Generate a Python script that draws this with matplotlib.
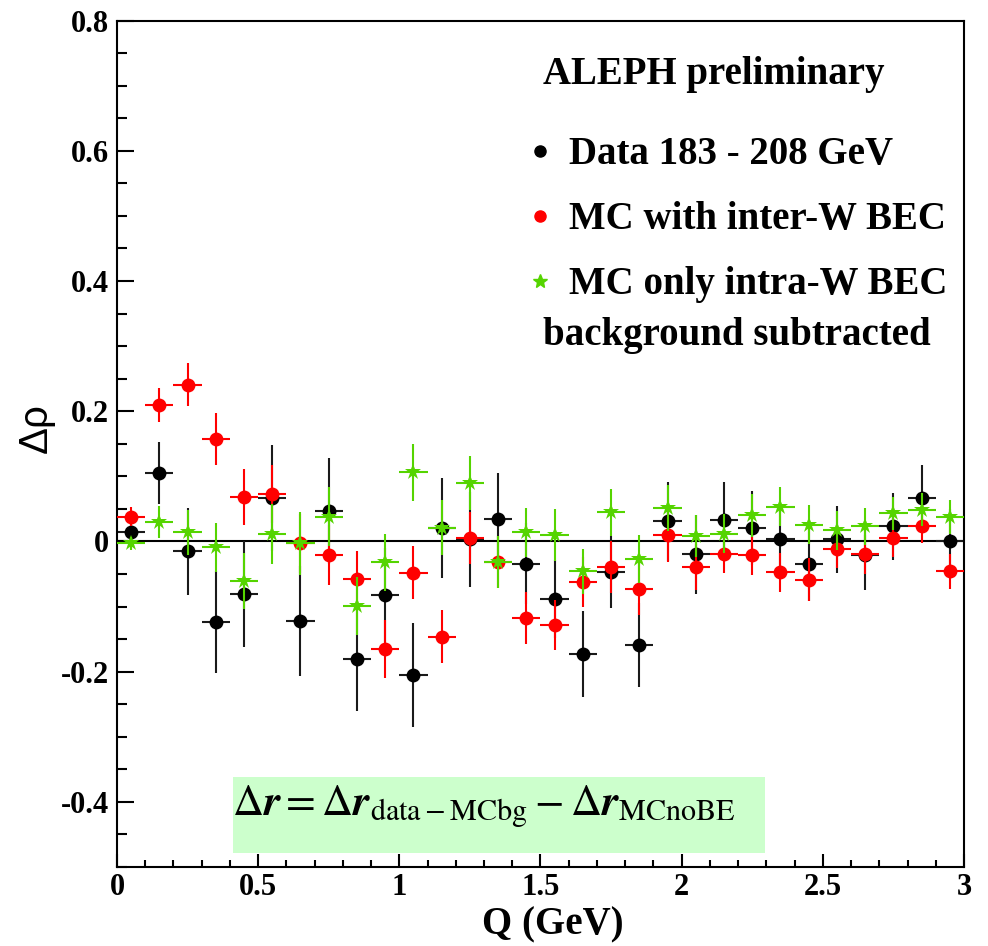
import numpy as np
import matplotlib
matplotlib.use("Agg")
import matplotlib.pyplot as plt
from matplotlib.lines import Line2D
from matplotlib.patches import Rectangle
from matplotlib.ticker import MultipleLocator

# Q bins (GeV), 0.1 wide
q = np.arange(30) * 0.1 + 0.05
q_half = 0.05

# Data 183 - 208 GeV
data_y = [0.014, 0.105, -0.015, -0.124, -0.081, 0.067, -0.122, 0.047, -0.180, -0.082,
          -0.205, 0.021, 0.003, 0.035, -0.034, -0.089, -0.173, -0.047, -0.159, 0.031,
          -0.020, 0.033, 0.021, 0.003, -0.035, 0.003, -0.021, 0.023, 0.067, 0.000]
data_err = [0.020, 0.047, 0.067, 0.078, 0.081, 0.081, 0.084, 0.081, 0.080, 0.072,
            0.080, 0.077, 0.073, 0.070, 0.062, 0.060, 0.066, 0.055, 0.065, 0.061,
            0.061, 0.058, 0.057, 0.052, 0.057, 0.052, 0.053, 0.052, 0.050, 0.050]

# MC with inter-W BEC
mc_inter_y = [0.038, 0.209, 0.241, 0.157, 0.069, 0.073, -0.003, -0.021, -0.058, -0.165,
              -0.048, -0.146, 0.005, -0.031, -0.118, -0.128, -0.062, -0.039, -0.073, 0.010,
              -0.039, -0.019, -0.021, -0.047, -0.059, -0.011, -0.020, 0.006, 0.023, -0.046]
mc_inter_err = [0.015, 0.026, 0.033, 0.040, 0.043, 0.044, 0.045, 0.046, 0.044, 0.045,
                0.041, 0.041, 0.040, 0.040, 0.040, 0.038, 0.038, 0.040, 0.040, 0.042,
                0.035, 0.030, 0.030, 0.030, 0.033, 0.030, 0.030, 0.030, 0.026, 0.027]

# MC only intra-W BEC
mc_intra_y = [-0.003, 0.030, 0.014, -0.009, -0.060, 0.012, -0.003, 0.038, -0.099, -0.032,
              0.106, 0.021, 0.090, -0.032, 0.014, 0.010, -0.046, 0.045, -0.027, 0.051,
              0.008, 0.012, 0.040, 0.053, 0.026, 0.017, 0.023, 0.043, 0.049, 0.037]
mc_intra_err = [0.010, 0.025, 0.035, 0.038, 0.043, 0.046, 0.048, 0.045, 0.044, 0.044,
                0.044, 0.042, 0.041, 0.040, 0.038, 0.040, 0.035, 0.036, 0.037, 0.035,
                0.032, 0.030, 0.033, 0.030, 0.030, 0.030, 0.028, 0.025, 0.025, 0.026]

x_ticks = [0, 0.5, 1, 1.5, 2, 2.5, 3]
x_ticklabels = ["0", "0.5", "1", "1.5", "2", "2.5", "3"]
y_ticks = [-0.4, -0.2, 0, 0.2, 0.4, 0.6, 0.8]
y_ticklabels = ["-0.4", "-0.2", "0", "0.2", "0.4", "0.6", "0.8"]

green = "#55d400"
serif = "Liberation Serif"
plt.rcParams["mathtext.fontset"] = "stix"

fig = plt.figure(figsize=(9.88, 9.46), dpi=100)
ax = fig.add_axes([0.1184, 0.0835, 0.8573, 0.8948])

ax.axhline(0, color="black", lw=1.5, zorder=1)

common = dict(xerr=q_half, fmt="o", lw=1.5, capsize=0, markeredgewidth=0)
ax.errorbar(q, data_y, yerr=data_err, color="black", ecolor="#1a1a1a", ms=10, zorder=2, **common)
ax.errorbar(q, mc_inter_y, yerr=mc_inter_err, color="red", ms=10, zorder=3, **common)
common["fmt"] = "*"
ax.errorbar(q, mc_intra_y, yerr=mc_intra_err, color=green, ms=12, zorder=4, **common)

ax.set_xlim(0, 3)
ax.set_ylim(-0.5, 0.8)
ax.set_xticks(x_ticks)
ax.set_xticklabels(x_ticklabels)
ax.set_yticks(y_ticks)
ax.set_yticklabels(y_ticklabels)
ax.xaxis.set_minor_locator(MultipleLocator(0.1))
ax.yaxis.set_minor_locator(MultipleLocator(0.05))
ax.tick_params(which="both", direction="in", top=False, right=False, width=1.5)
ax.tick_params(axis="x", which="major", length=9.5, pad=4)
ax.tick_params(axis="x", which="minor", length=5)
ax.tick_params(axis="y", which="major", length=12, pad=6)
ax.tick_params(axis="y", which="minor", length=7)
for lab in ax.get_xticklabels() + ax.get_yticklabels():
    lab.set_fontfamily(serif)
    lab.set_fontweight("bold")
    lab.set_fontsize(22)
for sp in ax.spines.values():
    sp.set_linewidth(1.5)

fig.text(553 / 988, 1 - 925 / 946, "Q (GeV)", ha="center", va="center",
         fontsize=28, fontweight="bold", family=serif)
fig.text(36 / 988, 1 - 428 / 946, "Δρ", ha="center", va="center", rotation=90,
         fontsize=29, family="Liberation Sans")

# formula box
ax.add_patch(Rectangle((0.41, -0.479), 1.885, 0.117, facecolor="#ccffcc",
                       edgecolor="none", zorder=0.5))
ax.text(1.30, -0.408,
        r"$\Delta\mathbfit{r} = \Delta\mathbfit{r}_{\mathrm{data-MCbg}} - \Delta\mathbfit{r}_{\mathrm{MCnoBE}}$",
        ha="center", va="center", fontsize=31, zorder=5)

# legend
handles = [
    Line2D([], [], ls="none", marker="o", color="black", ms=8),
    Line2D([], [], ls="none", marker="o", color="red", ms=8),
    Line2D([], [], ls="none", marker="*", color=green, ms=10),
]
labels = ["Data 183 - 208 GeV", "MC with inter-W BEC", "MC only intra-W BEC"]
ax.legend(handles, labels, loc="upper left", bbox_to_anchor=(0.486, 0.863),
          frameon=False, handlelength=0.6, handletextpad=0.44, labelspacing=0.72,
          borderpad=0, borderaxespad=0,
          prop={"family": serif, "weight": "bold", "size": 28})
ax.text(0.503, 0.936, "ALEPH preliminary", transform=ax.transAxes, ha="left", va="center",
        fontsize=28, fontweight="bold", family=serif)
ax.text(0.503, 0.628, "background subtracted", transform=ax.transAxes, ha="left", va="center",
        fontsize=28, fontweight="bold", family=serif)

fig.savefig("out.png", dpi=100)
